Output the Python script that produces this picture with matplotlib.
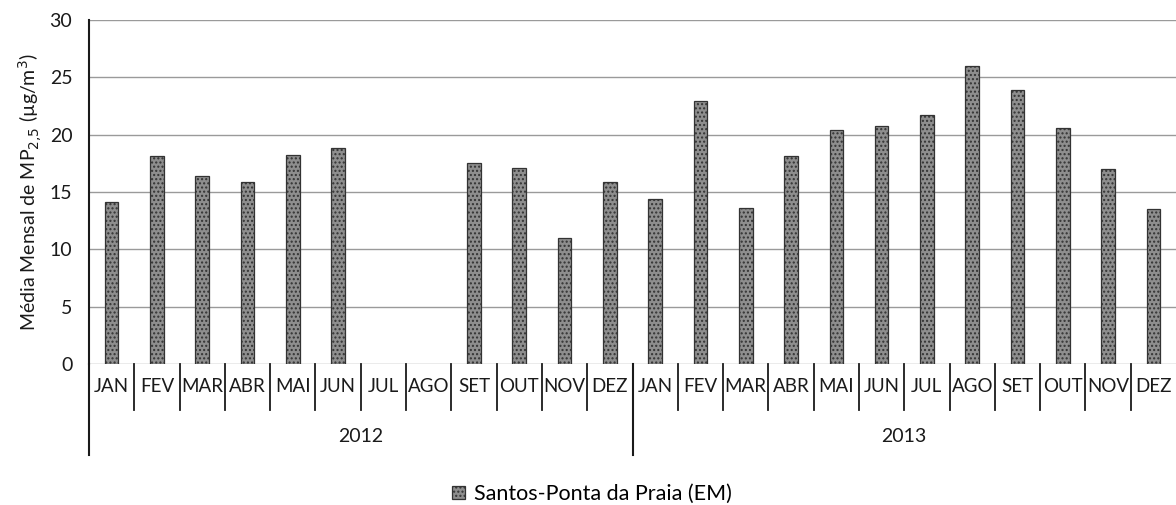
import numpy as np
import matplotlib.pyplot as plt
import matplotlib.transforms as mtransforms

plt.rcParams['font.family'] = ['Lato', 'DejaVu Sans']

months = ['JAN', 'FEV', 'MAR', 'ABR', 'MAI', 'JUN', 'JUL', 'AGO', 'SET', 'OUT', 'NOV', 'DEZ']
years = ['2012', '2013']
series_name = 'Santos-Ponta da Praia (EM)'
# monthly mean PM2.5, NaN = no data
values_2012 = [14.15, 18.1, 16.4, 15.9, 18.2, 18.8, np.nan, np.nan, 17.55, 17.05, 10.95, 15.9]
values_2013 = [14.35, 22.9, 13.6, 18.1, 20.4, 20.75, 21.7, 26.0, 23.9, 20.6, 17.0, 13.5]

labels = months * len(years)
values = np.array(values_2012 + values_2013)
x = np.arange(len(labels))

fig = plt.figure(figsize=(11.76, 5.05), dpi=100)
ax = fig.add_axes([89 / 1176, 1 - 364 / 505, 1087 / 1176, 344 / 505])

ax.bar(x, values, width=0.3, color='#8e8e8e', edgecolor='#333333', linewidth=0.9,
       hatch='....', label=series_name, zorder=3)

ax.set_xlim(-0.5, len(labels) - 0.5)
ax.set_ylim(0, 30)
ax.set_yticks(np.arange(0, 31, 5))
ax.yaxis.grid(True, color='#9a9a9a', linewidth=1.0, zorder=0)
ax.tick_params(axis='y', length=0, labelsize=14, pad=12, colors='#1a1a1a')
ax.set_ylabel('Média Mensal de MP$_{2{,}5}$ (µg/m$^3$)', fontsize=14, labelpad=4, color='#1a1a1a')

ax.set_xticks(x)
ax.set_xticklabels(labels, fontsize=13.5)
ax.tick_params(axis='x', length=0, pad=10, colors='#1a1a1a')

for side in ['top', 'right', 'bottom']:
    ax.spines[side].set_visible(False)
ax.spines['left'].set_color('#1a1a1a')
ax.spines['left'].set_linewidth(1.5)

trans = mtransforms.blended_transform_factory(ax.transData, ax.transAxes)
month_depth = -46 / 344
year_depth = -91 / 344
# month separators
for b in np.arange(0.5, len(labels) - 0.5, 1):
    ax.plot([b, b], [0, month_depth], transform=trans, color='#1a1a1a', lw=1.3, clip_on=False)
# year separators and year labels
n = len(months)
for i, yr in enumerate(years):
    start = i * n - 0.5
    ax.plot([start, start], [0, year_depth], transform=trans, color='#1a1a1a', lw=1.5, clip_on=False)
    ax.text(start + n / 2, -73 / 344, yr, transform=trans, ha='center', va='center',
            fontsize=14, color='#1a1a1a')

leg = fig.legend(loc='center', bbox_to_anchor=(592 / 1176, 1 - 494 / 505), frameon=False,
                 fontsize=15.5, handlelength=0.6, handleheight=0.6, handletextpad=0.4)

fig.savefig('out.png', dpi=100)
